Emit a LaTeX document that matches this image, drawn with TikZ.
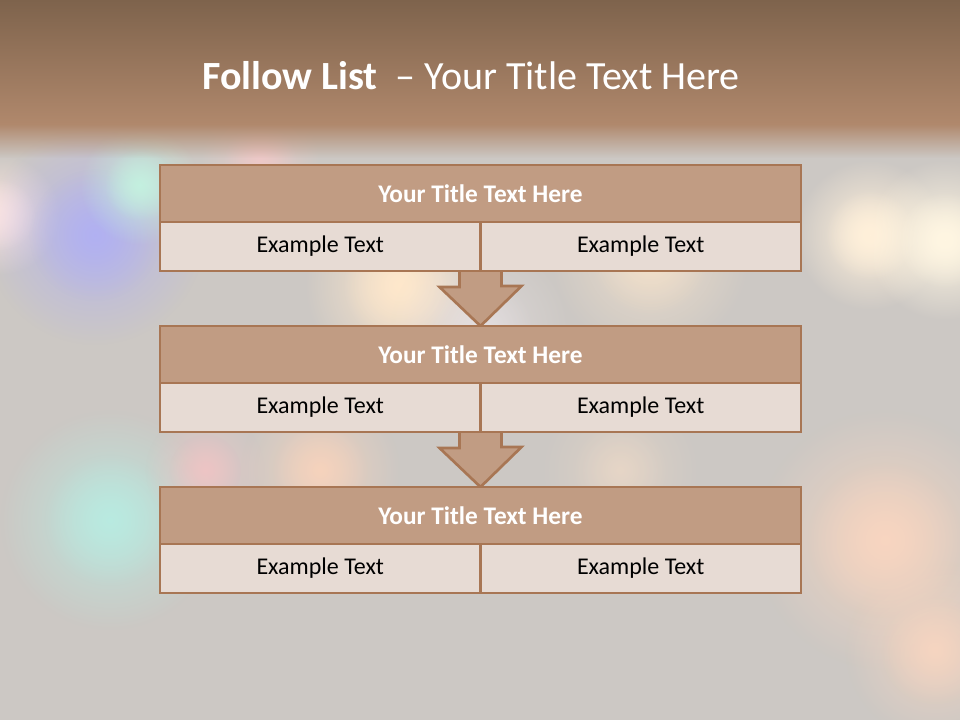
\documentclass[tikz,border=0pt]{standalone}
\usepackage{fontspec}
\setmainfont{Carlito}
\usepackage{tikz}
\usetikzlibrary{calc, fadings}

\definecolor{bandtop}{HTML}{7E634C}
\definecolor{bandlow}{HTML}{B0886C}
\definecolor{slidebg}{HTML}{CCC8C4}
\definecolor{barfill}{HTML}{C19C83}
\definecolor{barline}{HTML}{A87654}
\definecolor{cellfill}{HTML}{E7DBD4}

\pgfdeclarelayer{back}
\pgfdeclarelayer{mid}
\pgfsetlayers{back,mid,main}

\tikzfading[name=softspot, inner color=transparent!0, outer color=transparent!100]
\tikzfading[name=bandfade, top color=transparent!0, bottom color=transparent!100]

\begin{document}
\begin{tikzpicture}[x=0.75pt, y=-0.75pt,
        blob/.style={path fading=softspot},
        titlebar/.style={draw=barline, fill=barfill, line width=2pt, outer sep=0pt,
            minimum width=480.75pt, minimum height=42.75pt, inner sep=0pt,
            text=white, font=\fontsize{19}{22}\selectfont\bfseries},
        cellbox/.style={draw=barline, fill=cellfill, line width=2pt, outer sep=0pt,
            minimum width=240.4pt, minimum height=36.75pt, inner sep=0pt,
            text=black, font=\fontsize{18}{21}\selectfont},
        downarrow/.style={draw=barline, fill=barfill, line width=2pt, line join=miter},
    ]
    \useasboundingbox (0,0) rectangle (960,720);

    % ---- Background: brown band and soft light spots ----
    \begin{pgfonlayer}{back}
    \fill[slidebg] (0,0) rectangle (960,720);
    \foreach \bx/\by/\br/\bc/\bo in {
        0/215/60/FDE6E0/1, 95/235/110/B0B0F4/0.8, 140/185/60/C4F2E0/0.8,
        260/160/60/F4C8C8/0.6, 400/285/95/FFE8CC/0.9, 650/255/100/F8E4CC/0.7,
        870/235/75/FFF0DA/1, 945/240/80/FFF6E2/1, 110/520/110/B8ECE2/0.8,
        205/470/60/F4C4C4/0.6, 320/470/80/FAD4BC/0.7, 620/470/80/F2DCC8/0.45,
        885/540/130/FAD6C0/0.8, 935/650/90/FAD6C0/0.7, 480/330/90/ECE6EA/0.5} {
        \definecolor{spot}{HTML}{\bc}
        \fill[blob, spot, fill opacity=\bo] (\bx,\by) circle (\br);
        \fill[blob, spot, fill opacity=\bo] (\bx,\by) circle (0.6*\br);
    }
    \shade[top color=bandtop, bottom color=bandlow] (0,0) rectangle (960,124);
    \fill[bandlow, path fading=bandfade] (0,124) rectangle (960,158);
    \end{pgfonlayer}

    % ---- Slide title ----
    \node[text=white, font=\fontsize{30}{36}\selectfont] (head) at (471,76)
        {\textbf{Follow List}\ \ -- Your Title Text Here};

    % ---- Three tiers: title bar over two cells ----
    \foreach \i/\ty in {1/165, 2/326, 3/487} {
        \node[titlebar] (t\i) at (480.5,\ty+28.5) {Your Title Text Here};
        \node[cellbox, anchor=north west] (l\i) at (t\i.south west) {Example Text};
        \node[cellbox, anchor=north east] (r\i) at (t\i.south east) {Example Text};
    }

    % ---- Arrows between tiers ----
    \begin{pgfonlayer}{mid}
    \foreach \i/\j in {1/2, 2/3} {
        \draw[downarrow] (l\i.south east) ++(-21,-4) -- ++(0,20) -- ++(-20,0)
            -- (t\j.north) -- ++(41,-40) -- ++(-20,0) -- ++(0,-20) -- cycle;
    }
    \end{pgfonlayer}
\end{tikzpicture}
\end{document}
